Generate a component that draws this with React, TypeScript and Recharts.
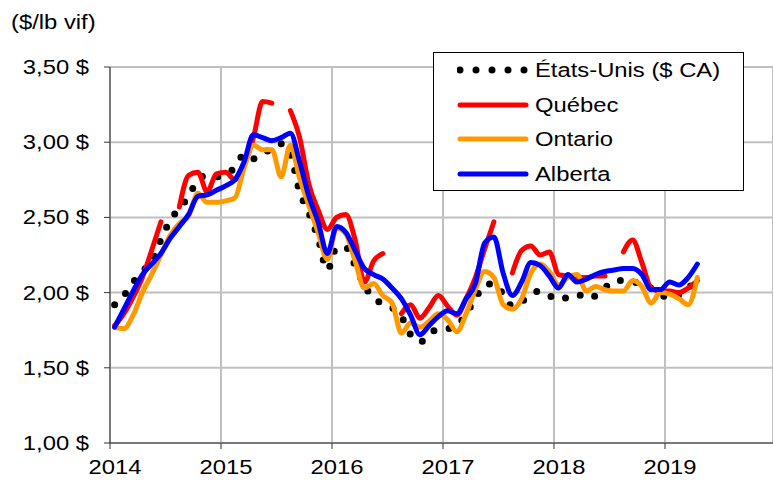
import { LineChart, Line, XAxis, YAxis, CartesianGrid } from "recharts";

// mois (milieu du mois sur l'axe des années)
const months = [
  "2014-01", "2014-02", "2014-03", "2014-04", "2014-05", "2014-06", "2014-07", "2014-08", "2014-09", "2014-10", "2014-11", "2014-12",
  "2015-01", "2015-02", "2015-03", "2015-04", "2015-05", "2015-06", "2015-07", "2015-08", "2015-09", "2015-10", "2015-11", "2015-12",
  "2016-01", "2016-02", "2016-03", "2016-04", "2016-05", "2016-06", "2016-07", "2016-08", "2016-09", "2016-10", "2016-11", "2016-12",
  "2017-01", "2017-02", "2017-03", "2017-04", "2017-05", "2017-06", "2017-07", "2017-08", "2017-09", "2017-10", "2017-11", "2017-12",
  "2018-01", "2018-02", "2018-03", "2018-04", "2018-05", "2018-06", "2018-07", "2018-08", "2018-09", "2018-10", "2018-11", "2018-12",
  "2019-01", "2019-02", "2019-03", "2019-04",
];

const etatsUnis = [
  1.92, 1.98, 2.07, 2.14, 2.21, 2.35, 2.48, 2.56, 2.64, 2.75, 2.78, 2.77,
  2.79, 2.83, 2.92, 2.89, 2.92, 2.96, 2.99, 2.92, 2.67, 2.53, 2.36, 2.15,
  2.30, 2.30, 2.18, 2.05, 1.96, 1.93, 1.90, 1.84, 1.72, 1.67, 1.72, 1.76,
  1.76, 1.78, 1.86, 1.96, 2.05, 2.06, 1.99, 1.91, 1.94, 1.99, 2.01, 1.98,
  1.95, 1.97, 1.99, 1.96, 1.98, 2.03, 2.08, 2.08, 2.07, 2.06, 2.03, 1.99,
  1.96, 1.98, 2.03, 2.08,
];

const quebec = [
  1.78, 1.86, 1.97, 2.10, 2.28, 2.47, null, 2.57, 2.78, 2.80, 2.67, 2.79,
  2.80, 2.75, 2.85, 3.03, 3.27, 3.26, null, 3.21, 3.03, 2.72, 2.55, 2.42,
  2.50, 2.52, 2.35, 2.07, 2.21, 2.26, null, 1.86, 1.92, 1.83, 1.90, 1.98,
  1.91, 1.85, 1.96, 2.10, 2.29, 2.47, null, 2.13, 2.28, 2.31, 2.25, 2.27,
  2.12, 2.11, 2.10, 2.10, 2.11, 2.11, null, 2.27, 2.35, 2.20, 2.03, 2.01,
  2.01, 2.00, 2.03, 2.08,
];

const ontario = [
  1.77, 1.76, 1.85, 2.00, 2.12, 2.25, 2.38, 2.46, 2.51, 2.66, 2.60, 2.60,
  2.61, 2.63, 2.83, 2.98, 2.95, 2.95, 2.77, 2.98, 2.76, 2.58, 2.40, 2.22,
  2.43, 2.39, 2.21, 2.03, 2.06, 1.98, 1.93, 1.73, 1.80, 1.77, 1.81, 1.86,
  1.82, 1.74, 1.86, 2.02, 2.14, 2.10, 1.92, 1.89, 1.96, 2.13, 2.19, 2.14,
  2.05, 2.10, 2.12, 2.01, 2.04, 2.02, 2.01, 2.01, 2.08, 2.04, 1.93, 2.00,
  1.99, 1.96, 1.92, 2.10,
];

const alberta = [
  1.77, 1.89, 2.01, 2.12, 2.19, 2.26, 2.36, 2.44, 2.52, 2.64, 2.65, 2.68,
  2.71, 2.75, 2.87, 3.05, 3.03, 3.01, 3.03, 3.06, 2.87, 2.64, 2.47, 2.26,
  2.44, 2.40, 2.28, 2.16, 2.12, 2.09, 2.03, 1.96, 1.85, 1.72, 1.78, 1.84,
  1.88, 1.86, 1.96, 2.06, 2.33, 2.37, 2.13, 1.98, 2.07, 2.20, 2.18, 2.11,
  2.03, 2.12, 2.07, 2.09, 2.12, 2.14, 2.15, 2.16, 2.16, 2.12, 2.02, 2.02,
  2.07, 2.05, 2.10, 2.19,
];

const yearTicks = [2014, 2015, 2016, 2017, 2018, 2019];
const priceTicks = [1, 1.5, 2, 2.5, 3, 3.5];

const legendItems = [
  { name: "États-Unis ($ CA)", color: "#000000", dotted: true },
  { name: "Québec", color: "#ff0000", dotted: false },
  { name: "Ontario", color: "#ff9900", dotted: false },
  { name: "Alberta", color: "#0000ff", dotted: false },
];

const data = months.map((m, i) => {
  const [y, mo] = m.split("-").map(Number);
  return {
    t: y + (mo - 0.5) / 12,
    us: etatsUnis[i],
    qc: quebec[i],
    on: ontario[i],
    ab: alberta[i],
  };
});

const FONT = "'Liberation Sans', Arial, sans-serif";
const STRETCH = 1.19;

const fmtPrice = (v: number) => v.toFixed(2).replace(".", ",") + " $";

function YTick(props: any) {
  const { x, y, payload } = props;
  return (
    <g transform={`translate(${x},${y}) scale(${STRETCH},1)`}>
      <text textAnchor="end" dy={7} fontSize={20} fontFamily={FONT} fill="#000">
        {fmtPrice(payload.value)}
      </text>
    </g>
  );
}

function XTick(props: any) {
  const { x, y, payload } = props;
  return (
    <g transform={`translate(${x + 5},${y}) scale(${STRETCH},1)`}>
      <text textAnchor="middle" dy={23} fontSize={20} fontFamily={FONT} fill="#000">
        {payload.value}
      </text>
    </g>
  );
}

function Legend() {
  return (
    <div
      style={{
        position: "absolute",
        left: 433,
        top: 52,
        width: 309,
        height: 137,
        border: "1px solid #000",
        background: "#fff",
      }}
    >
      {legendItems.map((it, i) => (
        <div
          key={it.name}
          style={{
            position: "absolute",
            left: 23,
            top: 7 + i * 34.7,
            height: 20,
            display: "flex",
            alignItems: "center",
          }}
        >
          <svg width={72} height={10}>
            {it.dotted ? (
              <line x1={3} y1={5} x2={70} y2={5} stroke={it.color} strokeWidth={7}
                strokeDasharray="0 16" strokeLinecap="round" />
            ) : (
              <line x1={3} y1={5} x2={69} y2={5} stroke={it.color} strokeWidth={5}
                strokeLinecap="round" />
            )}
          </svg>
          <span
            style={{
              marginLeft: 6,
              fontSize: 20,
              lineHeight: "20px",
              fontFamily: FONT,
              whiteSpace: "nowrap",
              display: "inline-block",
              transform: `scaleX(${STRETCH})`,
              transformOrigin: "left center",
            }}
          >
            {it.name}
          </span>
        </div>
      ))}
    </div>
  );
}

export default function App() {
  return (
    <div
      style={{
        position: "absolute",
        left: 0,
        top: 0,
        width: 773,
        height: 480,
        overflow: "hidden",
        background: "#fff",
      }}
    >
      <div
        style={{
          position: "absolute",
          left: 11,
          top: 12,
          fontSize: 20,
          lineHeight: "20px",
          fontFamily: FONT,
          whiteSpace: "nowrap",
          transform: `scaleX(${STRETCH})`,
          transformOrigin: "left center",
        }}
      >
        ($/lb vif)
      </div>
      <LineChart
        width={773}
        height={480}
        data={data}
        margin={{ top: 67, right: 0, bottom: 0, left: 0 }}
      >
        <CartesianGrid stroke="#c0c0c0" strokeWidth={2} />
        <XAxis
          type="number"
          dataKey="t"
          domain={[2014, 2019.973]}
          ticks={yearTicks}
          allowDataOverflow
          interval={0}
          height={37}
          tickSize={6}
          tickMargin={2}
          axisLine={{ stroke: "#333" }}
          tickLine={{ stroke: "#333" }}
          tick={<XTick />}
        />
        <YAxis
          type="number"
          domain={[1, 3.5]}
          ticks={priceTicks}
          interval={0}
          width={110}
          tickSize={6}
          tickMargin={15}
          axisLine={{ stroke: "#333" }}
          tickLine={{ stroke: "#333" }}
          tick={<YTick />}
        />
        <Line
          type="monotone"
          dataKey="us"
          stroke="#000"
          strokeWidth={7}
          strokeDasharray="0 15.7"
          strokeLinecap="round"
          dot={false}
          activeDot={false}
          isAnimationActive={false}
        />
        <Line
          type="monotone"
          dataKey="qc"
          stroke="#ff0000"
          strokeWidth={5}
          strokeLinecap="round"
          dot={false}
          activeDot={false}
          isAnimationActive={false}
        />
        <Line
          type="monotone"
          dataKey="on"
          stroke="#ff9900"
          strokeWidth={5}
          strokeLinecap="round"
          dot={false}
          activeDot={false}
          isAnimationActive={false}
        />
        <Line
          type="monotone"
          dataKey="ab"
          stroke="#0000ff"
          strokeWidth={5}
          strokeLinecap="round"
          dot={false}
          activeDot={false}
          isAnimationActive={false}
        />
      </LineChart>
      <Legend />
    </div>
  );
}
